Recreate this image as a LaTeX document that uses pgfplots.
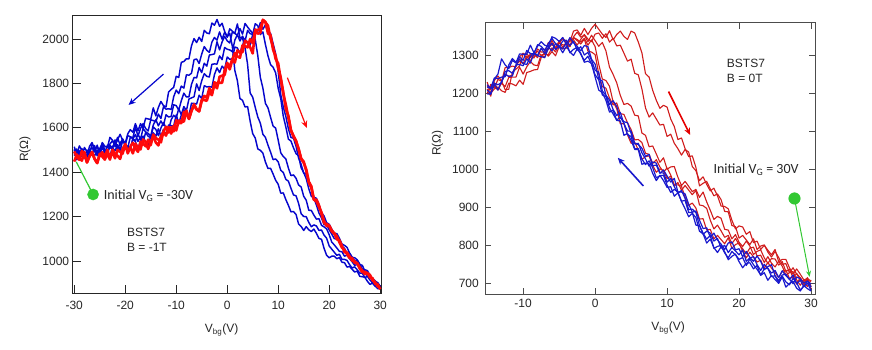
\documentclass[border=0pt]{standalone}
\usepackage{fontspec}
\setmainfont{Liberation Sans}
\newfontfamily\calfont{Carlito}
\usepackage{pgfplots}
\pgfplotsset{compat=1.18}
\usepackage{pgfplotstable}
\usetikzlibrary{arrows.meta}
\definecolor{lblue}{RGB}{5,5,205}
\definecolor{lred}{RGB}{255,10,10}
\definecolor{rblue}{RGB}{25,25,205}
\definecolor{rred}{RGB}{208,28,28}
\definecolor{gdot}{RGB}{50,200,50}

\pgfplotstableread{
V b1 b2 b3 b4 b5 r1 r2
-30.0 1502 1515 1490 1475 1503 1494 1448
-29.5 1474 1481 1457 1505 1457 1469 1480
-29.0 1519 1497 1486 1467 1485 1456 1465
-28.5 1500 1470 1507 1493 1501 1496 1452
-28.0 1489 1512 1477 1464 1473 1478 1491
-27.5 1473 1492 1460 1500 1456 1444 1445
-27.0 1517 1483 1498 1489 1500 1472 1472
-26.5 1534 1526 1511 1478 1488 1492 1488
-26.0 1500 1511 1491 1520 1474 1461 1459
-25.5 1516 1478 1522 1474 1500 1442 1441
-25.0 1489 1507 1484 1502 1472 1478 1483
-24.5 1534 1530 1512 1519 1517 1490 1471
-24.0 1517 1502 1484 1492 1498 1470 1457
-23.5 1511 1487 1522 1476 1487 1501 1484
-23.0 1557 1527 1512 1521 1471 1464 1457
-22.5 1545 1542 1503 1510 1515 1491 1502
-22.0 1515 1524 1546 1497 1532 1463 1484
-21.5 1547 1557 1502 1524 1498 1501 1474
-21.0 1571 1521 1531 1497 1514 1492 1460
-20.5 1544 1550 1549 1542 1487 1484 1506
-20.0 1530 1523 1522 1524 1529 1528 1525
-19.5 1573 1565 1510 1516 1512 1485 1493
-19.0 1592 1560 1558 1503 1505 1515 1511
-18.5 1580 1555 1551 1550 1551 1533 1485
-18.0 1619 1603 1541 1570 1538 1507 1529
-17.5 1586 1563 1572 1539 1507 1492 1510
-17.0 1619 1597 1548 1558 1539 1538 1503
-16.5 1598 1619 1597 1534 1563 1529 1548
-16.0 1643 1597 1582 1579 1535 1517 1535
-15.5 1640 1586 1575 1562 1521 1547 1505
-15.0 1638 1636 1563 1556 1561 1522 1537
-14.5 1690 1633 1613 1604 1578 1570 1561
-14.0 1654 1627 1637 1593 1562 1554 1534
-13.5 1692 1662 1609 1565 1596 1547 1521
-13.0 1719 1642 1631 1599 1562 1535 1563
-12.5 1700 1695 1611 1624 1593 1583 1580
-12.0 1694 1684 1659 1599 1568 1605 1565
-11.5 1761 1686 1649 1590 1613 1579 1604
-11.0 1773 1683 1651 1636 1610 1603 1574
-10.5 1782 1740 1704 1657 1608 1584 1609
-10.0 1832 1770 1700 1645 1658 1634 1588
-9.5 1827 1754 1680 1686 1621 1622 1633
-9.0 1895 1788 1722 1659 1657 1621 1630
-8.5 1899 1779 1756 1696 1682 1672 1628
-8.0 1911 1839 1739 1678 1662 1665 1678
-7.5 1911 1837 1740 1730 1656 1640 1641
-7.0 1970 1846 1796 1735 1711 1677 1677
-6.5 2002 1907 1827 1740 1710 1706 1702
-6.0 1984 1910 1825 1798 1707 1684 1682
-5.5 2008 1890 1872 1768 1747 1675 1674
-5.0 1989 1932 1849 1812 1732 1721 1726
-4.5 2039 1966 1891 1844 1790 1744 1725
-4.0 2027 1949 1878 1832 1784 1735 1722
-3.5 2024 1940 1928 1829 1786 1779 1762
-3.0 2072 1986 1930 1886 1783 1754 1747
-2.5 2062 2007 1933 1888 1840 1794 1805
-2.0 2088 1995 1988 1887 1870 1778 1799
-1.5 2057 2032 1951 1924 1849 1830 1803
-1.0 2071 1999 1987 1907 1878 1835 1803
-0.5 2034 2031 2012 1962 1864 1838 1860
0.0 2010 2008 1992 1954 1919 1893 1890
0.5 2026 2046 1982 1951 1909 1863 1876
1.0 1968 2035 2031 1943 1911 1907 1908
1.5 1858 2026 2025 1995 1964 1937 1894
2.0 1812 2068 2017 2020 1960 1922 1949
2.5 1732 2006 2047 1991 1935 1916 1939
3.0 1724 2004 2022 2013 1972 1971 1941
3.5 1694 1961 2070 1991 2001 1968 1992
4.0 1696 1886 2054 2039 1979 1962 1985
4.5 1630 1757 2039 2024 1972 2000 1963
5.0 1574 1738 2027 2021 2021 1982 1935
5.5 1554 1692 1998 2069 2044 2042 2038
6.0 1505 1649 1925 2060 2035 2039 2024
6.5 1499 1621 1827 2020 2074 2049 2028
7.0 1486 1571 1779 2032 2044 2086 2086
7.5 1446 1557 1710 1975 2064 2075 2077
8.0 1417 1522 1690 1924 2028 2060 2025
8.5 1418 1491 1648 1885 2026 2002 2017
9.0 1392 1457 1608 1873 1980 1964 1952
9.5 1364 1460 1599 1848 1934 1910 1924
10.0 1346 1447 1545 1778 1854 1890 1869
10.5 1306 1409 1488 1732 1750 1818 1826
11.0 1307 1399 1471 1652 1694 1753 1760
11.5 1277 1368 1460 1604 1651 1704 1684
12.0 1251 1360 1419 1549 1596 1645 1654
12.5 1222 1328 1385 1541 1557 1588 1590
13.0 1223 1298 1388 1510 1553 1561 1564
13.5 1210 1294 1373 1484 1517 1540 1541
14.0 1167 1260 1343 1474 1464 1504 1506
14.5 1156 1213 1334 1420 1436 1460 1462
15.0 1138 1201 1292 1399 1396 1443 1448
15.5 1155 1200 1274 1371 1392 1413 1407
16.0 1141 1174 1229 1326 1362 1358 1354
16.5 1133 1155 1228 1292 1326 1337 1331
17.0 1144 1163 1207 1283 1287 1277 1276
17.5 1125 1158 1189 1252 1283 1269 1277
18.0 1102 1138 1191 1216 1255 1243 1251
18.5 1098 1140 1161 1194 1218 1219 1212
19.0 1057 1117 1154 1164 1203 1180 1171
19.5 1026 1103 1145 1163 1173 1158 1167
20.0 1015 1068 1119 1141 1166 1159 1160
20.5 1022 1054 1086 1122 1144 1134 1138
21.0 1022 1040 1073 1101 1125 1124 1125
21.5 1011 1026 1059 1100 1124 1112 1098
22.0 1016 1031 1044 1090 1103 1085 1094
22.5 995 1008 1042 1065 1077 1061 1069
23.0 993 1008 1022 1058 1071 1050 1040
23.5 973 1003 1027 1035 1062 1031 1039
24.0 976 984 1011 1036 1036 1014 1021
24.5 963 969 997 1017 1017 1014 1002
25.0 951 974 981 1002 1015 992 999
25.5 955 961 985 1004 1006 991 990
26.0 931 946 980 986 985 971 966
26.5 930 945 958 964 981 957 950
27.0 927 926 953 961 955 941 952
27.5 909 931 932 957 951 945 946
28.0 895 915 934 936 928 938 926
28.5 901 902 916 920 924 913 923
29.0 889 887 901 912 905 906 898
29.5 876 892 904 901 888 886 896
30.0 876 888 887 878 887 886 873
}\lefttab

\pgfplotstableread{
V b1 b2 b3 b4 rA rB rC rD rE
-15.0 1222 1208 1216 1198 1211 1198 1218 1229 1218
-14.5 1212 1199 1212 1197 1192 1223 1209 1200 1217
-14.0 1240 1226 1237 1224 1233 1217 1227 1211 1214
-13.5 1238 1222 1250 1208 1245 1208 1210 1216 1236
-13.0 1242 1227 1290 1231 1232 1229 1226 1206 1231
-12.5 1243 1257 1274 1249 1209 1250 1217 1202 1267
-12.0 1274 1259 1264 1244 1210 1244 1241 1226 1267
-11.5 1291 1252 1286 1245 1255 1247 1242 1224 1271
-11.0 1281 1273 1279 1274 1263 1273 1242 1219 1269
-10.5 1295 1289 1303 1275 1271 1284 1268 1234 1295
-10.0 1286 1278 1302 1272 1303 1277 1250 1223 1305
-9.5 1312 1275 1302 1290 1303 1298 1269 1254 1291
-9.0 1304 1297 1326 1279 1293 1284 1283 1257 1302
-8.5 1303 1306 1306 1304 1303 1302 1274 1261 1292
-8.0 1327 1299 1323 1298 1310 1293 1272 1262 1316
-7.5 1323 1318 1335 1296 1299 1316 1300 1293 1308
-7.0 1312 1304 1326 1293 1295 1315 1302 1308 1308
-6.5 1330 1321 1322 1319 1318 1314 1301 1297 1333
-6.0 1344 1311 1348 1331 1328 1339 1319 1309 1330
-5.5 1330 1330 1344 1315 1319 1318 1308 1298 1316
-5.0 1321 1324 1336 1322 1337 1333 1332 1322 1331
-4.5 1337 1316 1346 1306 1320 1343 1327 1316 1345
-4.0 1339 1333 1328 1323 1334 1330 1326 1318 1334
-3.5 1325 1306 1346 1308 1324 1323 1322 1343 1335
-3.0 1336 1315 1332 1299 1346 1346 1348 1340 1363
-2.5 1313 1320 1323 1316 1338 1341 1360 1326 1366
-2.0 1322 1302 1311 1305 1329 1334 1347 1341 1352
-1.5 1300 1286 1325 1281 1342 1344 1352 1354 1370
-1.0 1307 1297 1322 1284 1310 1326 1335 1342 1354
-0.5 1286 1276 1289 1278 1308 1340 1352 1335 1370
0.0 1260 1248 1276 1242 1301 1322 1338 1355 1381
0.5 1255 1235 1237 1208 1251 1276 1323 1358 1368
1.0 1206 1195 1232 1201 1217 1237 1333 1344 1355
1.5 1194 1191 1195 1181 1213 1233 1311 1356 1346
2.0 1182 1161 1170 1150 1187 1218 1268 1334 1364
2.5 1157 1145 1180 1155 1169 1177 1249 1344 1340
3.0 1141 1129 1165 1128 1174 1159 1227 1324 1354
3.5 1149 1137 1135 1127 1146 1119 1194 1326 1363
4.0 1120 1121 1125 1089 1144 1120 1170 1305 1349
4.5 1100 1091 1122 1094 1122 1090 1173 1284 1341
5.0 1100 1086 1094 1076 1104 1068 1166 1289 1363
5.5 1067 1054 1067 1052 1077 1071 1142 1252 1358
6.0 1068 1054 1065 1052 1078 1051 1140 1248 1334
6.5 1043 1027 1055 1013 1070 1026 1095 1211 1306
7.0 1027 1012 1034 1016 1042 1033 1089 1161 1251
7.5 1008 1022 1039 1014 1039 1035 1059 1137 1242
8.0 1019 1004 1009 989 1015 1010 1061 1148 1207
8.5 1016 977 1011 970 1025 992 1040 1132 1181
9.0 991 983 989 984 1006 1001 1018 1116 1160
9.5 990 984 998 970 993 996 1030 1118 1168
10.0 966 958 982 952 1003 975 1000 1086 1163
10.5 976 939 966 954 985 982 1006 1092 1132
11.0 954 947 976 929 958 957 1007 1068 1112
11.5 937 940 940 938 959 965 979 1054 1078
12.0 944 916 940 915 955 945 957 1037 1082
12.5 923 918 935 896 926 957 968 1052 1054
13.0 894 886 908 875 905 945 955 1045 1033
13.5 895 886 887 884 911 933 941 1007 1035
14.0 886 853 890 873 898 944 947 996 1005
14.5 852 852 866 837 869 906 926 970 956
15.0 829 832 844 830 870 904 940 980 963
15.5 837 816 846 806 840 897 914 960 968
16.0 832 826 821 816 842 866 892 943 948
16.5 811 792 832 794 817 843 868 950 930
17.0 818 797 814 781 826 853 876 930 935
17.5 793 800 803 796 815 838 871 903 920
18.0 800 780 789 783 804 821 842 902 889
18.5 781 767 806 762 820 826 840 896 888
19.0 794 784 809 771 792 804 817 866 852
19.5 785 775 788 777 802 818 828 843 849
20.0 775 763 791 757 806 802 808 851 819
20.5 788 768 770 741 784 791 797 848 826
21.0 758 747 784 753 767 777 811 829 814
21.5 767 764 768 754 782 793 798 836 802
22.0 770 749 758 738 770 795 776 807 817
22.5 749 737 772 747 756 772 784 811 789
23.0 734 722 758 721 761 774 788 789 798
23.5 750 738 736 728 740 755 767 800 801
24.0 739 740 744 708 755 770 753 787 782
24.5 727 718 749 721 740 753 765 775 769
25.0 734 720 720 710 729 743 764 789 784
25.5 715 702 707 700 715 758 748 757 768
26.0 733 719 722 717 732 745 757 763 750
26.5 720 704 724 690 735 722 731 763 752
27.0 711 696 710 700 713 728 737 741 728
27.5 699 713 722 705 716 731 715 724 741
28.0 717 702 699 687 698 709 726 738 724
28.5 712 682 708 680 715 695 714 724 712
29.0 701 693 691 694 700 708 701 709 697
29.5 706 700 706 686 692 708 715 713 713
30.0 690 682 698 680 709 692 685 691 705
}\righttab

\begin{document}
\begin{tikzpicture}
\useasboundingbox (0pt,0pt) rectangle (872pt,349pt);
% ---------------- left panel ----------------
\begin{axis}[
  at={(72.7pt,55.7pt)}, anchor=south west, scale only axis,
  width=309pt, height=277.6pt,
  xmin=-30.3, xmax=30.3, ymin=855, ymax=2105,
  xtick={-30,-20,...,30}, ytick={1000,1200,...,2000},
  tick pos=left, tick align=inside, major tick length=8pt,
  axis line style={line width=1.2pt, black!85},
  tick style={line width=1pt, black!85},
  tick label style={font=\fontsize{12}{14}\selectfont, text=black!85},
  /pgf/number format/assume math mode=true,
  /pgf/number format/1000 sep={},
  xticklabel style={yshift=-4.4pt},
  xlabel={V\textsubscript{bg}(V)},
  ylabel={R(Ω)},
  label style={font=\fontsize{12}{14}\selectfont, text=black!85},
  xlabel style={at={(axis description cs:0.482,-0.132)}, anchor=center},
  ylabel style={at={(axis description cs:-0.154,0.52)}, anchor=center},
  every axis plot/.append style={line join=round},
]
\addplot[lblue, line width=1.45pt] table[x=V,y=b1]{\lefttab};
\addplot[lblue, line width=1.45pt] table[x=V,y=b2]{\lefttab};
\addplot[lblue, line width=1.45pt] table[x=V,y=b3]{\lefttab};
\addplot[lblue, line width=1.45pt] table[x=V,y=b4]{\lefttab};
\addplot[lblue, line width=1.45pt] table[x=V,y=b5]{\lefttab};
\addplot[lred, line width=2.6pt] table[x=V,y=r1]{\lefttab};
\addplot[lred, line width=2.6pt] table[x=V,y=r2]{\lefttab};
\addplot[lblue, line width=1.2pt, -{Stealth[length=7pt,width=6pt]}] coordinates {(-12.5,1842) (-19.35,1703)};
\addplot[lred, line width=1.2pt, -{Stealth[length=7pt,width=6pt]}] coordinates {(11.8,1826) (15.6,1600)};
\addplot[gdot, line width=1.2pt] coordinates {(-26.3,1300) (-29.6,1447)};
\addplot[only marks, mark=*, mark size=5.6pt, mark options={draw=gdot, fill=gdot}] coordinates {(-26.3,1300)};
\node[anchor=base west, inner sep=0pt, font={\calfont\fontsize{14}{16}\selectfont}, text=black!85] at (axis cs:-24.25,1279) {Initial V\textsubscript{G} = -30V};
\node[anchor=base west, inner sep=0pt, font=\fontsize{12}{14}\selectfont, text=black!85] at (axis cs:-19.67,1113) {BSTS7};
\node[anchor=base west, inner sep=0pt, font=\fontsize{12}{14}\selectfont, text=black!85] at (axis cs:-19.67,1045) {B = -1T};
\end{axis}
% ---------------- right panel ----------------
\begin{axis}[
  at={(485pt,55pt)}, anchor=south west, scale only axis,
  width=330pt, height=271.3pt,
  xmin=-15.3, xmax=30.55, ymin=672, ymax=1385,
  xtick={-10,0,...,30}, ytick={700,800,...,1300},
  tick align=inside, major tick length=6pt,
  axis line style={line width=0.8pt, black!70},
  tick style={line width=0.8pt, black!70},
  tick label style={font=\fontsize{12}{14}\selectfont, text=black!85},
  /pgf/number format/assume math mode=true,
  /pgf/number format/1000 sep={},
  xticklabel style={yshift=-1.7pt},
  yticklabel style={xshift=-2.7pt},
  xlabel={V\textsubscript{bg}(V)},
  ylabel={R(Ω)},
  label style={font=\fontsize{12}{14}\selectfont, text=black!85},
  xlabel style={at={(axis description cs:0.555,-0.126)}, anchor=center},
  ylabel style={at={(axis description cs:-0.144,0.557)}, anchor=center},
  every axis plot/.append style={line join=round},
]
\addplot[rred, line width=1.1pt] table[x=V,y=rA]{\righttab};
\addplot[rred, line width=1.1pt] table[x=V,y=rB]{\righttab};
\addplot[rred, line width=1.1pt] table[x=V,y=rC]{\righttab};
\addplot[rred, line width=1.1pt] table[x=V,y=rD]{\righttab};
\addplot[rred, line width=1.1pt] table[x=V,y=rE]{\righttab};
\addplot[rblue, line width=1.2pt] table[x=V,y=b1]{\righttab};
\addplot[rblue, line width=1.2pt] table[x=V,y=b2]{\righttab};
\addplot[rblue, line width=1.2pt] table[x=V,y=b3]{\righttab};
\addplot[rblue, line width=1.2pt] table[x=V,y=b4]{\righttab};
\addplot[red!90!black, line width=1.6pt, -{Stealth[length=7pt,width=6pt]}] coordinates {(10.2,1204) (13.2,1090)};
\addplot[rblue, line width=1.6pt, -{Stealth[length=7pt,width=6pt]}] coordinates {(6.7,956) (3.15,1030)};
\addplot[gdot, line width=1pt, -{Stealth[length=6pt,width=5pt]}] coordinates {(27.7,923) (29.8,717)};
\addplot[only marks, mark=*, mark size=5.8pt, mark options={draw=gdot, fill=gdot}] coordinates {(27.7,923)};
\node[anchor=base west, inner sep=0pt, font={\calfont\fontsize{14}{16}\selectfont}, text=black!85] at (axis cs:16.43,988) {Initial V\textsubscript{G} = 30V};
\node[anchor=base west, inner sep=0pt, font=\fontsize{12}{14}\selectfont, text=black!85] at (axis cs:18.29,1267) {BSTS7};
\node[anchor=base west, inner sep=0pt, font=\fontsize{12}{14}\selectfont, text=black!85] at (axis cs:18.29,1227.5) {B = 0T};
\end{axis}
\end{tikzpicture}
\end{document}
